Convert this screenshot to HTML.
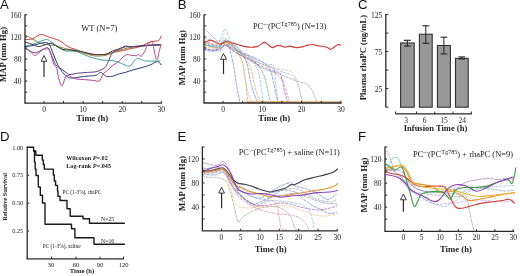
<!DOCTYPE html>
<html><head><meta charset="utf-8"><style>html,body{margin:0;padding:0;background:#fff;}svg{display:block;filter:blur(0.4px)}</style></head><body>
<svg width="520" height="276" viewBox="0 0 520 276">
<rect width="520" height="276" fill="#fff"/>
<path d="M25.0,39.5 C26.3,39.4 30.5,39.5 32.6,38.9 C34.7,38.3 36.2,36.5 37.7,35.7 C39.2,35.0 40.2,34.4 41.5,34.4 C42.8,34.4 43.8,35.2 45.3,35.7 C46.8,36.2 48.5,37.0 50.4,37.6 C52.3,38.2 54.8,38.8 56.7,39.5 C58.6,40.2 60.3,41.0 61.8,42.0 C63.3,43.0 64.1,44.2 65.6,45.2 C67.1,46.2 68.7,46.9 70.7,47.8 C72.7,48.6 75.2,49.5 77.6,50.3 C80.0,51.1 82.3,52.0 85.2,52.8 C88.1,53.5 91.5,54.5 95.0,54.8 C98.5,55.0 102.6,54.8 105.9,54.3 C109.2,53.8 111.7,52.7 114.6,52.1 C117.5,51.5 120.4,51.1 123.3,50.5 C126.2,49.9 129.2,48.9 132.0,48.3 C134.8,47.7 137.6,47.5 140.0,46.7 C142.4,45.9 144.2,44.6 146.2,43.7 C148.2,42.8 150.1,42.0 152.0,41.5 C153.9,41.0 156.5,41.3 157.8,40.8 C159.1,40.3 159.4,39.4 160.0,38.6 C160.6,37.8 161.0,36.4 161.2,36.0" fill="none" stroke="#d23c3c" stroke-width="1.0" stroke-linejoin="round" stroke-linecap="round" opacity="1"/>
<path d="M25.0,35.0 C25.8,35.4 28.3,36.6 30.0,37.5 C31.7,38.4 33.3,39.6 35.0,40.5 C36.7,41.4 38.3,42.3 40.0,43.0 C41.7,43.7 43.3,44.2 45.0,44.5 C46.7,44.8 48.3,44.8 50.0,45.0 C51.7,45.2 53.3,45.2 55.0,45.5 C56.7,45.8 58.3,46.5 60.0,47.0 C61.7,47.5 63.3,48.1 65.0,48.5 C66.7,48.9 68.0,49.1 70.0,49.5 C72.0,49.9 74.5,50.1 77.0,50.8 C79.5,51.5 82.0,52.6 85.0,53.5 C88.0,54.4 91.7,55.7 95.0,56.0 C98.3,56.3 102.2,56.0 105.0,55.5 C107.8,55.0 109.5,53.9 112.0,53.0 C114.5,52.1 117.0,50.9 120.0,50.0 C123.0,49.1 127.1,48.2 130.0,47.5 C132.9,46.8 134.2,46.3 137.5,46.0 C140.8,45.7 146.1,45.7 150.0,45.5 C153.9,45.3 159.2,45.1 161.0,45.0" fill="none" stroke="#8c8a3c" stroke-width="1.0" stroke-linejoin="round" stroke-linecap="round" opacity="1"/>
<path d="M25.0,46.5 C25.8,46.2 28.3,45.5 30.0,45.0 C31.7,44.5 33.3,44.1 35.0,43.5 C36.7,42.9 38.1,42.2 40.0,41.5 C41.9,40.8 44.9,39.6 46.6,39.5 C48.3,39.4 48.7,40.2 50.0,41.0 C51.3,41.8 52.7,42.9 54.2,44.0 C55.8,45.1 57.4,46.6 59.3,47.8 C61.2,49.0 63.5,50.5 65.6,51.0 C67.7,51.5 69.9,50.8 72.0,51.0 C74.1,51.2 75.8,51.3 78.0,52.0 C80.2,52.7 82.5,54.0 85.0,55.0 C87.5,56.0 90.2,57.1 93.0,57.9 C95.8,58.7 99.0,59.6 102.0,60.0 C105.0,60.4 108.3,60.2 111.0,60.5 C113.7,60.8 115.7,61.2 118.0,62.0 C120.3,62.8 123.0,64.3 125.0,65.0 C127.0,65.7 128.4,66.8 130.0,66.0 C131.6,65.2 133.3,61.7 134.6,60.4 C135.8,59.1 136.1,58.2 137.5,58.2 C138.9,58.2 141.4,59.9 143.3,60.4 C145.2,60.9 146.2,61.0 149.0,61.1 C151.8,61.2 158.2,61.1 160.0,61.1" fill="none" stroke="#3aa39a" stroke-width="1.0" stroke-linejoin="round" stroke-linecap="round" opacity="1"/>
<path d="M25.0,42.0 C26.1,42.3 29.2,43.2 31.3,44.0 C33.4,44.8 35.6,46.3 37.7,46.5 C39.8,46.7 42.1,45.7 44.0,45.2 C45.9,44.7 47.6,43.5 49.1,43.3 C50.6,43.1 51.5,43.4 53.0,44.0 C54.5,44.6 56.3,46.1 58.0,47.0 C59.7,47.9 61.0,49.0 63.0,49.5 C65.0,50.0 67.5,49.8 70.0,50.0 C72.5,50.2 75.5,50.6 78.0,51.0 C80.5,51.4 82.2,51.9 85.0,52.5 C87.8,53.1 91.8,54.2 95.0,54.5 C98.2,54.8 101.8,54.7 104.0,54.5 C106.2,54.3 106.6,54.1 108.0,53.5 C109.4,52.9 110.6,51.8 112.4,51.0 C114.2,50.2 116.7,49.7 118.9,48.9 C121.1,48.1 123.4,46.6 125.4,46.2 C127.4,45.8 128.5,46.7 130.9,46.7 C133.3,46.7 137.2,46.5 140.0,46.2 C142.8,45.9 145.4,45.3 147.7,45.1 C149.9,44.9 151.4,45.0 153.5,44.9 C155.6,44.8 158.9,44.5 160.0,44.4" fill="none" stroke="#3a3a44" stroke-width="1.0" stroke-linejoin="round" stroke-linecap="round" opacity="1"/>
<path d="M25.0,48.4 C25.8,48.8 28.3,50.3 30.0,51.0 C31.7,51.7 33.3,52.9 35.2,52.8 C37.1,52.7 39.4,51.1 41.5,50.3 C43.6,49.5 46.1,46.9 47.8,47.8 C49.5,48.6 50.3,52.6 51.6,55.4 C52.9,58.1 54.2,62.2 55.5,64.3 C56.8,66.3 58.0,66.7 59.3,67.7 C60.5,68.7 61.7,69.3 63.0,70.2 C64.3,71.1 65.7,72.3 66.9,73.0 C68.1,73.7 68.0,74.5 70.0,74.5 C72.0,74.5 75.8,73.4 78.7,73.1 C81.6,72.8 84.5,72.6 87.4,72.4 C90.3,72.2 93.7,72.2 96.1,71.7 C98.5,71.2 100.3,70.3 101.9,69.5 C103.5,68.7 104.4,68.2 105.6,66.7 C106.8,65.2 108.1,62.0 108.9,60.2 C109.7,58.4 109.9,57.2 110.5,55.9 C111.1,54.6 111.7,53.5 112.7,52.6 C113.7,51.7 115.3,51.0 116.5,50.4 C117.7,49.8 118.5,49.4 120.0,48.8 C121.5,48.2 123.6,47.1 125.4,46.8 C127.2,46.5 128.6,46.9 131.0,46.8 C133.4,46.7 137.2,46.4 140.0,46.2 C142.8,46.0 145.5,45.7 148.0,45.5 C150.5,45.3 152.9,45.3 155.0,45.2 C157.1,45.1 159.6,45.0 160.5,44.9" fill="none" stroke="#5e3f80" stroke-width="1.0" stroke-linejoin="round" stroke-linecap="round" opacity="1"/>
<path d="M25.0,46.5 C26.1,46.4 29.1,46.3 31.3,45.9 C33.5,45.5 35.9,44.5 38.0,44.0 C40.1,43.5 42.2,42.7 44.0,42.7 C45.8,42.7 47.4,42.0 49.0,44.0 C50.6,46.0 52.1,51.5 53.6,55.0 C55.1,58.5 56.4,62.2 58.0,65.2 C59.6,68.2 61.3,70.8 63.0,72.8 C64.7,74.8 66.4,76.3 68.1,77.2 C69.8,78.1 71.2,78.0 73.2,78.0 C75.2,78.0 77.4,77.3 80.0,77.0 C82.6,76.7 86.1,76.3 88.8,76.0 C91.5,75.7 94.2,75.9 96.1,75.3 C98.0,74.7 99.0,72.4 100.4,72.4 C101.9,72.4 103.6,74.6 104.8,75.3 C106.0,76.0 106.2,76.6 107.7,76.7 C109.2,76.8 111.6,76.5 113.5,76.0 C115.4,75.5 117.4,74.4 119.3,73.8 C121.2,73.2 122.7,73.2 125.0,72.5 C127.3,71.8 130.4,70.6 133.2,69.8 C136.0,69.0 139.0,68.4 141.9,67.6 C144.8,66.8 148.2,65.7 150.6,64.7 C153.0,63.7 154.9,62.2 156.4,61.8 C157.9,61.4 158.5,62.0 159.3,62.5 C160.1,63.0 160.7,64.3 161.0,64.7" fill="none" stroke="#2c3a86" stroke-width="1.0" stroke-linejoin="round" stroke-linecap="round" opacity="1"/>
<path d="M25.0,47.8 C25.6,48.2 27.5,49.2 28.8,50.3 C30.1,51.3 31.5,53.2 32.6,54.1 C33.7,55.0 34.1,55.6 35.2,55.4 C36.3,55.2 37.7,53.8 39.0,52.8 C40.3,51.8 41.3,50.3 42.8,49.7 C44.3,49.1 46.5,48.5 47.8,49.0 C49.1,49.5 49.6,51.1 50.4,52.8 C51.1,54.5 51.7,57.2 52.3,59.2 C52.9,61.2 53.5,63.5 54.2,65.0 C54.9,66.5 56.0,66.1 56.7,68.0 C57.4,69.9 57.5,73.7 58.2,76.6 C59.0,79.5 60.4,84.2 61.2,85.5 C62.0,86.8 62.3,85.7 63.0,84.2 C63.7,82.7 64.8,78.1 65.6,76.6 C66.4,75.1 66.4,74.9 68.1,75.3 C69.8,75.7 73.1,78.2 75.8,78.9 C78.5,79.6 81.6,79.3 84.5,79.6 C87.4,79.8 90.8,80.2 93.2,80.4 C95.6,80.7 97.7,81.5 99.0,81.1 C100.3,80.7 100.5,79.4 101.2,78.2 C101.9,77.0 102.2,75.2 103.3,73.8 C104.4,72.4 106.0,71.5 107.7,70.0 C109.4,68.5 111.6,66.5 113.5,65.0 C115.4,63.5 117.7,62.3 119.3,61.0 C120.9,59.7 121.7,58.1 123.0,57.0 C124.3,55.9 125.8,54.8 127.0,54.5 C128.2,54.2 128.9,54.9 130.4,55.1 C131.9,55.3 134.5,55.8 135.9,55.7 C137.3,55.6 137.7,54.5 138.6,54.6 C139.5,54.7 140.3,56.8 141.3,56.2 C142.3,55.7 143.5,53.2 144.6,51.3 C145.7,49.4 146.7,46.4 147.8,44.8 C148.9,43.2 150.2,41.9 151.0,41.5 C151.8,41.1 152.1,41.0 152.7,42.6 C153.2,44.2 153.8,48.7 154.3,51.3 C154.9,53.9 155.4,57.1 156.0,58.4 C156.6,59.7 157.1,60.1 157.6,58.9 C158.1,57.7 158.6,53.6 159.2,51.3 C159.8,48.9 160.6,45.9 160.9,44.8" fill="none" stroke="#b4468e" stroke-width="1.0" stroke-linejoin="round" stroke-linecap="round" opacity="1"/>
<path d="M204.0,45.0 C205.0,45.2 208.0,45.7 210.0,46.0 C212.0,46.3 214.2,47.0 216.0,47.0 C217.8,47.0 219.5,47.0 221.0,46.0 C222.5,45.0 223.8,41.3 225.0,41.0 C226.2,40.7 227.2,42.5 228.0,44.0 C228.8,45.5 229.3,47.1 230.0,49.7 C230.7,52.3 231.6,56.5 232.3,59.5 C233.0,62.5 233.3,63.4 234.0,67.6 C234.7,71.8 235.5,78.8 236.5,84.5 C237.5,90.2 239.2,99.1 239.8,102.0" fill="none" stroke="#4a6ec8" stroke-width="0.85" stroke-dasharray="2.4,1.6" stroke-linejoin="round" stroke-linecap="round" opacity="0.72"/>
<path d="M204.0,29.0 C204.7,29.5 206.7,30.8 208.0,32.0 C209.3,33.2 210.7,34.7 212.0,36.0 C213.3,37.3 214.8,39.1 216.0,40.0 C217.2,40.9 218.0,40.8 219.5,41.5 C221.0,42.2 222.8,43.2 225.0,44.0 C227.2,44.8 230.6,44.4 233.0,46.4 C235.4,48.4 238.0,53.2 239.7,56.2 C241.4,59.2 242.1,60.4 243.0,64.4 C243.9,68.4 244.7,74.9 245.4,80.0 C246.1,85.1 246.6,91.3 247.0,95.0 C247.4,98.7 247.8,100.8 248.0,102.0" fill="none" stroke="#8a8a8a" stroke-width="0.85" stroke-dasharray="2.4,1.6" stroke-linejoin="round" stroke-linecap="round" opacity="0.72"/>
<path d="M204.0,47.0 C205.0,47.2 208.0,47.7 210.0,48.0 C212.0,48.3 214.2,49.0 216.0,49.0 C217.8,49.0 219.5,48.8 221.0,48.0 C222.5,47.2 223.2,44.5 225.0,44.0 C226.8,43.5 229.3,43.3 231.5,44.8 C233.7,46.3 236.1,49.7 238.0,53.0 C239.9,56.3 241.9,60.6 243.0,64.4 C244.1,68.2 244.0,72.5 244.6,75.8 C245.2,79.1 245.6,81.1 246.3,84.5 C247.0,87.9 248.2,93.2 249.0,96.0 C249.8,98.8 250.8,100.6 251.2,101.5" fill="none" stroke="#f0b870" stroke-width="0.85" stroke-dasharray="2.4,1.6" stroke-linejoin="round" stroke-linecap="round" opacity="0.72"/>
<path d="M204.0,43.0 C205.0,43.2 208.0,43.5 210.0,44.0 C212.0,44.5 214.2,45.8 216.0,46.0 C217.8,46.2 219.5,45.6 221.0,45.0 C222.5,44.4 223.0,42.3 225.0,42.5 C227.0,42.7 230.3,44.0 233.0,46.0 C235.7,48.0 238.8,51.8 241.3,54.6 C243.8,57.4 246.2,60.2 247.8,62.7 C249.5,65.2 250.1,66.2 251.2,69.8 C252.3,73.4 253.4,80.2 254.5,84.5 C255.6,88.8 256.6,93.1 257.7,95.9 C258.8,98.7 258.1,100.5 261.0,101.5 C263.9,102.5 270.2,101.8 275.0,101.8 C279.8,101.8 287.5,101.8 290.0,101.8" fill="none" stroke="#e8922c" stroke-width="0.85" stroke-dasharray="2.4,1.6" stroke-linejoin="round" stroke-linecap="round" opacity="0.72"/>
<path d="M204.0,49.0 C205.0,49.2 208.0,49.8 210.0,50.0 C212.0,50.2 214.2,50.7 216.0,50.0 C217.8,49.3 219.5,47.7 221.0,46.0 C222.5,44.3 223.3,40.5 225.0,40.0 C226.7,39.5 228.8,41.7 231.0,43.0 C233.2,44.3 235.7,45.5 238.0,48.0 C240.3,50.5 242.9,54.5 244.6,57.8 C246.3,61.1 246.9,63.5 248.0,68.0 C249.1,72.5 249.9,79.3 251.2,84.5 C252.5,89.7 254.9,96.1 256.0,99.0 C257.1,101.9 257.7,101.5 258.0,102.0" fill="none" stroke="#4a6ec8" stroke-width="0.85" stroke-dasharray="2.4,1.6" stroke-linejoin="round" stroke-linecap="round" opacity="0.72"/>
<path d="M204.0,42.0 C205.0,42.3 208.0,43.5 210.0,44.0 C212.0,44.5 214.2,46.0 216.0,45.0 C217.8,44.0 219.5,40.7 221.0,38.0 C222.5,35.3 223.8,29.7 225.0,29.0 C226.2,28.3 226.8,31.5 228.0,34.0 C229.2,36.5 230.0,41.0 232.0,44.0 C234.0,47.0 237.0,49.7 240.0,52.0 C243.0,54.3 247.1,55.0 250.0,58.0 C252.9,61.0 256.0,65.9 257.7,69.8 C259.4,73.7 259.4,76.8 260.2,81.2 C261.0,85.6 262.0,92.4 262.6,95.9 C263.2,99.4 263.8,101.0 264.0,102.0" fill="none" stroke="#7ab0d8" stroke-width="0.85" stroke-dasharray="2.4,1.6" stroke-linejoin="round" stroke-linecap="round" opacity="0.72"/>
<path d="M204.0,45.0 C205.0,45.2 208.0,45.5 210.0,46.0 C212.0,46.5 214.2,48.2 216.0,48.0 C217.8,47.8 219.5,46.2 221.0,45.0 C222.5,43.8 222.7,40.5 225.0,41.0 C227.3,41.5 231.7,45.5 235.0,48.0 C238.3,50.5 241.7,53.7 245.0,56.0 C248.3,58.3 252.5,60.0 255.0,62.0 C257.5,64.0 258.4,65.6 260.0,68.0 C261.6,70.4 262.8,71.6 264.3,76.3 C265.8,81.0 268.0,91.6 269.0,95.9 C270.0,100.2 270.2,101.0 270.5,102.0" fill="none" stroke="#3c9a46" stroke-width="0.85" stroke-dasharray="2.4,1.6" stroke-linejoin="round" stroke-linecap="round" opacity="0.72"/>
<path d="M204.0,50.0 C205.0,50.2 208.0,50.8 210.0,51.0 C212.0,51.2 214.2,51.2 216.0,51.0 C217.8,50.8 219.5,51.0 221.0,50.0 C222.5,49.0 222.7,45.0 225.0,45.0 C227.3,45.0 230.8,48.1 235.0,50.0 C239.2,51.9 246.2,54.6 250.0,56.2 C253.8,57.8 255.1,58.2 257.6,59.5 C260.1,60.8 262.8,62.0 265.0,64.0 C267.2,66.0 269.0,66.6 270.8,71.4 C272.6,76.2 274.6,88.0 275.7,92.6 C276.8,97.2 276.9,97.4 277.3,99.0 C277.7,100.6 277.9,101.5 278.0,102.0" fill="none" stroke="#4a6ec8" stroke-width="0.85" stroke-dasharray="2.4,1.6" stroke-linejoin="round" stroke-linecap="round" opacity="0.72"/>
<path d="M204.0,38.0 C205.0,38.3 208.0,39.2 210.0,40.0 C212.0,40.8 214.2,43.0 216.0,43.0 C217.8,43.0 219.5,40.8 221.0,40.0 C222.5,39.2 222.7,37.0 225.0,38.0 C227.3,39.0 231.7,43.5 235.0,46.0 C238.3,48.5 241.2,50.8 245.0,53.0 C248.8,55.2 253.9,57.6 257.6,59.5 C261.3,61.4 264.7,63.3 267.4,64.4 C270.1,65.5 272.3,63.2 273.6,65.9 C274.9,68.6 274.8,75.0 275.4,80.4 C276.0,85.8 276.8,94.9 277.2,98.5 C277.6,102.1 277.7,101.4 277.8,102.0" fill="none" stroke="#7ab0d8" stroke-width="0.85" stroke-dasharray="2.4,1.6" stroke-linejoin="round" stroke-linecap="round" opacity="0.72"/>
<path d="M204.0,41.0 C205.0,41.3 208.2,42.3 210.0,43.0 C211.8,43.7 212.5,44.8 215.0,45.0 C217.5,45.2 220.8,42.8 225.0,44.0 C229.2,45.2 235.0,49.3 240.0,52.0 C245.0,54.7 251.0,57.8 255.0,60.0 C259.0,62.2 261.4,64.0 264.0,65.2 C266.6,66.4 268.5,65.4 270.7,67.0 C272.9,68.6 275.2,72.8 277.2,75.0 C279.2,77.2 281.2,77.7 282.7,80.4 C284.2,83.1 285.2,87.9 286.3,91.2 C287.4,94.5 288.5,98.5 289.0,100.3 C289.5,102.1 289.4,101.7 289.5,102.0" fill="none" stroke="#e07a8a" stroke-width="0.85" stroke-dasharray="2.4,1.6" stroke-linejoin="round" stroke-linecap="round" opacity="0.72"/>
<path d="M204.0,43.0 C205.3,43.5 209.3,45.2 212.0,46.0 C214.7,46.8 217.7,48.2 220.0,48.0 C222.3,47.8 223.5,44.3 226.0,45.0 C228.5,45.7 231.0,49.5 235.0,52.0 C239.0,54.5 245.5,57.3 250.0,60.0 C254.5,62.7 258.7,66.1 262.0,68.0 C265.3,69.9 267.2,70.3 270.0,71.3 C272.8,72.3 276.0,73.0 279.0,74.0 C282.0,75.0 285.1,76.4 288.1,77.6 C291.1,78.8 294.2,80.2 297.2,81.3 C300.2,82.4 303.8,82.7 306.2,84.0 C308.6,85.3 310.2,87.0 311.7,89.4 C313.2,91.8 314.4,96.4 315.3,98.5 C316.2,100.6 316.7,101.4 317.0,102.0" fill="none" stroke="#8a8a8a" stroke-width="0.85" stroke-dasharray="2.4,1.6" stroke-linejoin="round" stroke-linecap="round" opacity="0.72"/>
<path d="M204.0,48.0 C205.3,48.3 209.3,49.8 212.0,50.0 C214.7,50.2 217.7,49.7 220.0,49.0 C222.3,48.3 222.7,45.0 226.0,46.0 C229.3,47.0 235.2,52.2 240.0,55.0 C244.8,57.8 250.0,60.5 255.0,63.0 C260.0,65.5 266.0,68.4 270.0,70.0 C274.0,71.6 277.0,71.7 278.8,72.5 C280.6,73.3 279.9,71.9 280.9,75.0 C281.8,78.1 283.4,87.0 284.5,91.2 C285.6,95.4 286.7,98.5 287.2,100.3 C287.7,102.1 287.5,101.7 287.6,102.0" fill="none" stroke="#8a44b4" stroke-width="0.85" stroke-dasharray="2.4,1.6" stroke-linejoin="round" stroke-linecap="round" opacity="0.72"/>
<path d="M204.0,46.0 C205.0,46.2 208.0,46.7 210.0,47.0 C212.0,47.3 214.2,48.5 216.0,48.0 C217.8,47.5 219.5,45.2 221.0,44.0 C222.5,42.8 222.7,40.0 225.0,41.0 C227.3,42.0 231.2,47.2 235.0,50.0 C238.8,52.8 243.5,55.7 248.0,58.0 C252.5,60.3 257.5,62.3 262.0,64.0 C266.5,65.7 271.2,67.0 275.0,68.0 C278.8,69.0 282.2,69.3 285.0,70.0 C287.8,70.7 290.0,70.3 292.0,72.0 C294.0,73.7 295.7,76.7 297.0,80.0 C298.3,83.3 299.2,88.3 300.0,92.0 C300.8,95.7 301.7,100.3 302.0,102.0" fill="none" stroke="#f0b870" stroke-width="0.85" stroke-dasharray="2.4,1.6" stroke-linejoin="round" stroke-linecap="round" opacity="0.72"/>
<path d="M204.0,44.0 C205.3,44.3 209.3,45.8 212.0,46.0 C214.7,46.2 217.7,46.0 220.0,45.0 C222.3,44.0 223.0,38.8 226.0,40.0 C229.0,41.2 233.7,48.7 238.0,52.0 C242.3,55.3 247.0,57.7 252.0,60.0 C257.0,62.3 262.8,64.0 268.0,66.0 C273.2,68.0 278.8,70.3 283.0,72.0 C287.2,73.7 290.5,73.8 293.0,76.0 C295.5,78.2 296.7,81.7 298.0,85.0 C299.3,88.3 300.2,93.2 301.0,96.0 C301.8,98.8 302.2,101.0 302.5,102.0" fill="none" stroke="#7ab0d8" stroke-width="0.85" stroke-dasharray="2.4,1.6" stroke-linejoin="round" stroke-linecap="round" opacity="0.72"/>
<line x1="246" y1="102.0" x2="341" y2="102.0" stroke="#e8a868" stroke-width="1.6"/>
<path d="M203.8,42.5 C204.3,42.3 205.7,41.9 206.8,41.5 C207.9,41.1 209.3,40.2 210.6,40.2 C211.9,40.2 212.9,40.9 214.4,41.5 C215.9,42.1 218.0,43.8 219.5,44.0 C221.0,44.2 222.0,43.2 223.3,42.8 C224.6,42.4 225.4,41.4 227.1,41.5 C228.8,41.6 230.8,42.5 233.2,43.2 C235.6,43.9 238.6,44.9 241.3,45.6 C244.0,46.3 246.8,47.1 249.5,47.2 C252.2,47.3 255.2,47.2 257.6,46.4 C260.1,45.6 262.4,42.6 264.2,42.3 C266.0,42.0 266.8,43.9 268.2,44.8 C269.6,45.7 270.8,47.6 272.3,47.7 C273.8,47.8 275.8,45.9 277.2,45.6 C278.6,45.3 279.7,45.5 281.0,45.8 C282.3,46.1 283.5,47.1 285.0,47.2 C286.5,47.3 288.1,46.1 290.0,46.2 C291.9,46.3 294.1,47.6 296.2,47.7 C298.3,47.8 300.6,47.3 302.5,46.9 C304.4,46.5 305.8,45.6 307.5,45.2 C309.2,44.8 310.8,44.4 312.5,44.5 C314.2,44.6 315.6,45.3 317.5,45.6 C319.4,45.9 322.0,46.2 323.7,46.5 C325.4,46.8 326.4,47.0 327.5,47.5 C328.6,48.0 329.6,49.4 330.6,49.4 C331.6,49.4 332.6,48.3 333.7,47.5 C334.8,46.7 336.4,45.1 337.5,44.7 C338.6,44.3 340.1,45.0 340.6,45.0" fill="none" stroke="#d23c3c" stroke-width="1.2" stroke-linejoin="round" stroke-linecap="round" opacity="1"/>
<path d="M203.0,163.0 C203.4,163.0 203.8,162.9 205.3,163.2 C206.8,163.5 209.8,164.7 212.0,165.0 C214.2,165.3 216.4,165.4 218.3,164.8 C220.2,164.2 221.6,161.0 223.2,161.5 C224.8,162.0 226.2,164.5 228.1,168.0 C230.0,171.5 232.7,178.3 234.6,182.7 C236.5,187.1 237.8,191.5 239.5,194.2 C241.2,196.9 242.8,197.4 245.0,199.0 C247.2,200.6 250.2,202.3 252.7,203.5 C255.2,204.7 257.1,205.8 260.0,206.0 C262.9,206.2 266.7,205.5 270.0,205.0 C273.3,204.5 276.7,203.2 280.0,203.0 C283.3,202.8 286.7,203.3 290.0,204.0 C293.3,204.7 296.7,206.2 300.0,207.0 C303.3,207.8 306.7,208.5 310.0,209.0 C313.3,209.5 316.7,210.2 320.0,210.0 C323.3,209.8 327.2,208.7 330.0,208.0 C332.8,207.3 335.8,206.3 337.0,206.0" fill="none" stroke="#8a44b4" stroke-width="0.85" stroke-dasharray="2.4,1.6" stroke-linejoin="round" stroke-linecap="round" opacity="0.72"/>
<path d="M203.0,175.0 C203.4,175.3 202.8,176.5 205.3,177.0 C207.9,177.5 214.8,177.0 218.3,177.8 C221.8,178.6 224.3,179.0 226.5,181.9 C228.7,184.8 229.8,190.3 231.2,195.0 C232.6,199.7 233.8,205.5 235.0,210.0 C236.2,214.5 236.7,220.8 238.1,221.9 C239.5,223.0 240.6,218.6 243.5,216.5 C246.4,214.4 252.2,211.1 255.8,209.6 C259.4,208.1 262.2,207.8 265.0,207.3 C267.8,206.8 270.1,206.4 272.7,206.5 C275.3,206.6 278.1,207.1 280.4,208.0 C282.7,208.9 284.7,210.2 286.5,211.9 C288.3,213.6 289.9,215.7 291.2,218.0 C292.5,220.3 293.4,223.9 294.2,225.8 C295.0,227.7 294.8,228.8 295.8,229.5 C296.8,230.2 299.3,229.9 300.0,230.0" fill="none" stroke="#8a8a8a" stroke-width="0.85" stroke-dasharray="2.4,1.6" stroke-linejoin="round" stroke-linecap="round" opacity="0.72"/>
<path d="M203.0,168.0 C204.5,168.2 209.2,169.0 212.0,169.0 C214.8,169.0 217.7,167.5 220.0,168.0 C222.3,168.5 224.0,169.2 226.0,172.0 C228.0,174.8 229.6,181.2 232.0,185.0 C234.4,188.8 237.7,192.1 240.4,195.0 C243.1,197.9 245.4,200.8 248.0,202.7 C250.6,204.6 253.2,206.2 255.8,206.5 C258.4,206.8 260.9,205.2 263.5,204.2 C266.1,203.2 269.1,200.7 271.2,200.4 C273.2,200.2 274.6,201.0 275.8,202.7 C277.0,204.4 277.5,207.6 278.1,210.4 C278.7,213.2 279.1,216.7 279.6,219.6 C280.1,222.5 280.1,226.3 281.2,228.0 C282.3,229.7 285.6,229.5 286.5,229.8" fill="none" stroke="#e07a8a" stroke-width="0.85" stroke-dasharray="2.4,1.6" stroke-linejoin="round" stroke-linecap="round" opacity="0.72"/>
<path d="M203.0,172.0 C205.0,172.0 211.3,172.3 215.0,172.0 C218.7,171.7 222.2,168.7 225.0,170.0 C227.8,171.3 229.5,176.7 232.0,180.0 C234.5,183.3 237.0,187.3 240.0,190.0 C243.0,192.7 246.7,194.7 250.0,196.0 C253.3,197.3 256.7,198.7 260.0,198.0 C263.3,197.3 267.3,193.6 270.0,192.0 C272.7,190.4 274.5,189.7 276.3,188.6 C278.1,187.5 278.3,186.7 280.8,185.7 C283.3,184.7 288.8,182.6 291.2,182.7 C293.6,182.8 292.6,185.0 295.0,186.0 C297.4,187.0 301.9,187.6 305.4,188.7 C308.9,189.8 312.4,190.8 315.9,192.6 C319.4,194.3 323.7,198.3 326.3,199.2 C328.9,200.1 329.8,198.8 331.5,197.9 C333.2,197.0 335.9,194.7 336.8,194.0" fill="none" stroke="#4a6ec8" stroke-width="0.85" stroke-dasharray="2.4,1.6" stroke-linejoin="round" stroke-linecap="round" opacity="0.72"/>
<path d="M203.0,170.0 C205.0,170.0 211.5,170.2 215.0,170.0 C218.5,169.8 221.2,167.3 224.0,169.0 C226.8,170.7 228.5,176.5 232.0,180.0 C235.5,183.5 240.3,187.7 245.0,190.0 C249.7,192.3 255.0,193.7 260.0,194.0 C265.0,194.3 269.9,192.9 275.0,192.0 C280.1,191.1 286.7,189.0 290.9,188.7 C295.1,188.4 296.9,188.7 300.2,190.0 C303.5,191.3 307.2,194.8 310.7,196.6 C314.2,198.3 317.6,199.6 321.1,200.5 C324.6,201.4 328.9,202.0 331.5,201.8 C334.1,201.6 335.9,199.6 336.8,199.2" fill="none" stroke="#8a8a8a" stroke-width="0.85" stroke-dasharray="2.4,1.6" stroke-linejoin="round" stroke-linecap="round" opacity="0.72"/>
<path d="M203.0,174.0 C205.0,174.2 211.5,175.2 215.0,175.0 C218.5,174.8 221.2,171.2 224.0,173.0 C226.8,174.8 228.7,181.8 232.0,186.0 C235.3,190.2 240.6,195.0 244.0,198.0 C247.4,201.0 250.0,203.3 252.7,204.0 C255.4,204.7 257.4,203.0 260.0,202.0 C262.6,201.0 265.5,199.0 268.0,198.0 C270.5,197.0 272.2,196.5 275.0,196.0 C277.8,195.5 281.5,195.5 285.0,195.0 C288.5,194.5 293.5,192.7 296.0,193.0 C298.5,193.3 297.8,194.7 300.2,196.6 C302.6,198.5 307.2,202.2 310.7,204.4 C314.2,206.6 318.1,208.1 321.1,209.6 C324.2,211.1 326.4,213.1 329.0,213.5 C331.6,213.9 335.5,212.4 336.8,212.2" fill="none" stroke="#4a6ec8" stroke-width="0.85" stroke-dasharray="2.4,1.6" stroke-linejoin="round" stroke-linecap="round" opacity="0.72"/>
<path d="M203.0,172.0 C205.0,172.0 211.5,172.2 215.0,172.0 C218.5,171.8 221.5,168.8 224.0,171.0 C226.5,173.2 228.1,179.5 230.0,185.0 C231.9,190.5 232.9,200.2 235.7,204.0 C238.5,207.8 243.2,207.5 247.0,208.0 C250.8,208.5 254.2,207.3 258.3,207.0 C262.4,206.7 266.9,206.6 271.5,206.4 C276.1,206.2 281.6,205.4 285.7,205.7 C289.8,206.0 292.5,207.2 296.0,208.3 C299.5,209.4 303.4,211.1 306.6,212.2 C309.8,213.3 311.9,214.4 315.0,215.0 C318.1,215.6 321.3,216.2 325.0,216.0 C328.7,215.8 335.0,214.3 337.0,214.0" fill="none" stroke="#f0b870" stroke-width="0.85" stroke-dasharray="2.4,1.6" stroke-linejoin="round" stroke-linecap="round" opacity="0.72"/>
<path d="M203.0,169.0 C205.8,168.8 215.2,165.8 220.0,168.0 C224.8,170.2 227.0,177.5 232.0,182.0 C237.0,186.5 244.5,192.0 250.0,195.0 C255.5,198.0 260.0,199.0 265.0,200.0 C270.0,201.0 275.0,200.5 280.0,201.0 C285.0,201.5 290.8,202.2 295.0,203.0 C299.2,203.8 302.5,204.5 305.0,206.0 C307.5,207.5 308.7,209.3 310.0,212.0 C311.3,214.7 312.2,219.0 313.0,222.0 C313.8,225.0 313.4,228.5 314.6,229.8 C315.8,231.1 319.1,230.0 320.0,230.0" fill="none" stroke="#7ab0d8" stroke-width="0.85" stroke-dasharray="2.4,1.6" stroke-linejoin="round" stroke-linecap="round" opacity="0.72"/>
<path d="M203.0,171.0 C205.0,171.0 211.5,171.2 215.0,171.0 C218.5,170.8 221.5,168.5 224.0,170.0 C226.5,171.5 228.0,176.3 230.0,180.0 C232.0,183.7 233.5,188.7 236.0,192.0 C238.5,195.3 241.8,197.8 245.0,200.0 C248.2,202.2 252.2,204.5 255.0,205.0 C257.8,205.5 259.5,204.2 262.0,203.0 C264.5,201.8 267.3,199.8 270.0,198.0 C272.7,196.2 275.5,193.3 278.0,192.0 C280.5,190.7 282.2,190.0 285.0,190.0 C287.8,190.0 291.7,191.0 295.0,192.0 C298.3,193.0 301.7,194.7 305.0,196.0 C308.3,197.3 311.7,198.8 315.0,200.0 C318.3,201.2 321.3,202.3 325.0,203.0 C328.7,203.7 335.0,203.8 337.0,204.0" fill="none" stroke="#7080b8" stroke-width="0.85" stroke-dasharray="2.4,1.6" stroke-linejoin="round" stroke-linecap="round" opacity="0.72"/>
<path d="M203.0,173.0 C205.0,173.0 211.5,173.2 215.0,173.0 C218.5,172.8 221.5,170.5 224.0,172.0 C226.5,173.5 227.7,178.0 230.0,182.0 C232.3,186.0 235.0,192.3 238.0,196.0 C241.0,199.7 244.7,201.8 248.0,204.0 C251.3,206.2 254.7,207.7 258.0,209.0 C261.3,210.3 264.7,211.2 268.0,212.0 C271.3,212.8 274.3,213.5 278.0,214.0 C281.7,214.5 286.3,214.3 290.0,215.0 C293.7,215.7 297.3,216.5 300.0,218.0 C302.7,219.5 304.5,221.9 306.0,224.0 C307.5,226.1 308.5,229.2 309.0,230.3" fill="none" stroke="#c08898" stroke-width="0.85" stroke-dasharray="2.4,1.6" stroke-linejoin="round" stroke-linecap="round" opacity="0.72"/>
<path d="M202.8,170.8 C203.2,170.9 203.8,171.4 205.3,171.3 C206.8,171.2 209.6,170.9 211.8,170.5 C214.0,170.1 216.4,169.3 218.3,168.9 C220.2,168.5 221.6,167.3 223.2,168.0 C224.8,168.7 226.5,171.0 228.1,172.9 C229.7,174.8 231.4,177.8 233.0,179.5 C234.6,181.2 236.0,182.4 237.9,183.2 C239.8,184.0 242.2,183.7 244.4,184.2 C246.6,184.7 248.8,185.3 251.0,186.0 C253.2,186.7 255.7,187.7 257.5,188.4 C259.3,189.1 259.9,189.4 262.0,190.0 C264.1,190.6 267.5,191.9 270.0,192.0 C272.5,192.1 274.6,191.0 277.1,190.4 C279.6,189.8 282.7,189.2 285.0,188.3 C287.3,187.4 289.2,185.4 290.9,184.8 C292.6,184.2 292.6,185.5 295.0,184.6 C297.4,183.7 301.9,180.9 305.4,179.6 C308.9,178.3 312.4,177.9 315.9,177.0 C319.4,176.1 323.2,175.3 326.3,174.4 C329.4,173.5 332.3,172.6 334.2,171.7 C336.1,170.8 336.9,169.3 337.5,168.8" fill="none" stroke="#3a3a44" stroke-width="1.1" stroke-linejoin="round" stroke-linecap="round" opacity="1"/>
<path d="M202.8,172.0 C203.2,172.0 203.8,172.3 205.3,172.1 C206.8,171.9 209.8,171.4 212.0,171.0 C214.2,170.6 216.4,170.0 218.3,169.7 C220.2,169.3 221.3,167.8 223.2,168.9 C225.1,170.0 227.8,173.5 229.7,176.2 C231.6,178.9 232.7,183.3 234.6,185.2 C236.5,187.1 238.5,186.5 241.2,187.6 C243.9,188.7 247.5,190.5 251.0,191.7 C254.5,192.8 258.8,193.7 262.0,194.5 C265.2,195.3 266.1,196.4 270.0,196.6 C273.9,196.8 281.5,195.9 285.7,195.5 C289.9,195.1 290.8,194.7 295.0,194.0 C299.2,193.3 305.5,192.2 310.7,191.3 C315.9,190.4 322.4,189.6 326.3,188.7 C330.2,187.8 332.3,187.0 334.2,186.1 C336.1,185.2 336.9,183.9 337.5,183.5" fill="none" stroke="#e8922c" stroke-width="1.1" stroke-linejoin="round" stroke-linecap="round" opacity="1"/>
<path d="M202.8,170.5 C203.2,170.5 203.8,170.9 205.3,170.5 C206.8,170.1 209.6,168.7 211.8,168.0 C214.0,167.3 216.5,166.9 218.3,166.4 C220.1,165.9 221.0,164.7 222.4,164.8 C223.8,164.9 225.0,165.6 226.5,167.2 C228.0,168.8 230.1,172.0 231.4,174.6 C232.8,177.2 233.5,180.2 234.6,182.7 C235.7,185.1 236.3,187.7 237.9,189.3 C239.5,190.9 242.2,191.7 244.4,192.5 C246.6,193.3 248.1,193.8 251.0,194.0 C253.9,194.2 258.6,193.3 262.0,193.5 C265.4,193.7 268.4,194.4 271.5,195.0 C274.6,195.6 277.6,197.0 280.9,197.2 C284.1,197.4 287.6,196.3 291.0,196.0 C294.4,195.7 297.0,195.8 301.3,195.2 C305.6,194.6 312.2,193.1 317.0,192.6 C321.8,192.1 326.6,192.3 330.0,192.0 C333.4,191.7 336.2,190.8 337.5,190.5" fill="none" stroke="#8a44b4" stroke-width="1.1" stroke-linejoin="round" stroke-linecap="round" opacity="1"/>
<path d="M386.0,151.0 C386.2,151.1 386.8,150.5 387.4,151.6 C388.0,152.7 389.1,155.5 389.9,157.7 C390.7,159.9 391.5,162.6 392.3,165.0 C393.1,167.4 393.5,170.3 394.7,172.3 C395.9,174.3 398.0,175.1 399.6,177.1 C401.2,179.1 402.7,182.2 404.4,184.4 C406.1,186.6 407.4,188.6 410.0,190.0 C412.6,191.4 415.8,192.2 420.0,193.0 C424.2,193.8 430.0,194.5 435.0,195.0 C440.0,195.5 445.8,195.7 450.0,196.0 C454.2,196.3 457.3,196.5 460.0,196.6 C462.7,196.7 464.2,192.7 466.1,196.6 C468.0,200.5 470.0,214.3 471.3,220.0 C472.6,225.7 473.6,229.2 474.0,231.0" fill="none" stroke="#8a8a8a" stroke-width="0.85" stroke-dasharray="2.4,1.6" stroke-linejoin="round" stroke-linecap="round" opacity="0.72"/>
<path d="M386.0,170.0 C387.1,168.2 390.4,161.0 392.3,158.9 C394.2,156.8 395.9,157.3 397.1,157.7 C398.3,158.1 398.6,159.1 399.6,161.3 C400.6,163.5 402.0,168.1 403.2,171.1 C404.4,174.1 405.3,177.1 406.8,179.6 C408.3,182.1 409.8,184.3 412.0,186.0 C414.2,187.7 417.0,189.0 420.0,190.0 C423.0,191.0 425.8,191.5 430.0,192.0 C434.2,192.5 440.7,192.7 445.0,193.0 C449.3,193.3 452.4,194.3 455.7,194.0 C459.0,193.7 461.8,192.0 465.0,191.0 C468.2,190.0 470.8,188.3 475.0,188.0 C479.2,187.7 485.0,188.5 490.0,189.0 C495.0,189.5 501.0,190.8 505.0,191.0 C509.0,191.2 512.5,190.2 514.0,190.0" fill="none" stroke="#3aa39a" stroke-width="0.85" stroke-dasharray="2.4,1.6" stroke-linejoin="round" stroke-linecap="round" opacity="0.72"/>
<path d="M386.0,168.0 C387.5,168.7 392.3,170.3 395.0,172.0 C397.7,173.7 399.6,175.1 402.0,178.0 C404.4,180.9 406.5,186.2 409.3,189.3 C412.1,192.4 415.0,194.1 419.0,196.5 C423.0,198.9 430.0,202.5 433.5,203.8 C437.0,205.1 437.2,204.5 440.0,204.4 C442.8,204.3 447.1,203.5 450.4,203.1 C453.7,202.7 455.9,202.5 460.0,202.0 C464.1,201.5 470.0,200.2 475.0,200.0 C480.0,199.8 485.0,200.7 490.0,201.0 C495.0,201.3 501.0,202.2 505.0,202.0 C509.0,201.8 512.5,200.3 514.0,200.0" fill="none" stroke="#b58fd8" stroke-width="0.85" stroke-dasharray="2.4,1.6" stroke-linejoin="round" stroke-linecap="round" opacity="0.72"/>
<path d="M386.0,168.0 C387.5,168.7 392.0,170.0 395.0,172.0 C398.0,174.0 401.2,177.0 404.0,180.0 C406.8,183.0 409.3,187.3 412.0,190.0 C414.7,192.7 417.0,194.0 420.0,196.0 C423.0,198.0 427.0,200.5 430.0,202.0 C433.0,203.5 435.5,204.2 438.0,205.0 C440.5,205.8 443.0,206.9 445.0,206.7 C447.0,206.5 448.1,205.1 450.0,204.0 C451.9,202.9 454.2,201.8 456.7,200.0 C459.2,198.2 461.1,195.2 465.0,193.3 C468.9,191.4 475.0,189.6 480.0,188.5 C485.0,187.4 489.3,187.0 495.0,186.5 C500.7,186.0 510.8,185.7 514.0,185.5" fill="none" stroke="#7ab0d8" stroke-width="0.85" stroke-dasharray="2.4,1.6" stroke-linejoin="round" stroke-linecap="round" opacity="0.72"/>
<path d="M386.0,170.0 C387.5,170.0 392.3,169.7 395.0,170.0 C397.7,170.3 399.5,169.8 402.0,172.0 C404.5,174.2 407.0,180.0 410.0,183.0 C413.0,186.0 415.8,188.5 420.0,190.0 C424.2,191.5 430.0,192.0 435.0,192.0 C440.0,192.0 446.6,190.6 450.0,190.0 C453.4,189.4 453.0,190.0 455.7,188.7 C458.4,187.4 462.2,183.7 466.1,182.2 C470.0,180.7 475.3,180.2 479.2,179.6 C483.1,178.9 486.6,178.3 489.6,178.3 C492.6,178.3 494.3,179.6 497.4,179.6 C500.4,179.6 505.1,178.3 507.9,178.3 C510.7,178.3 513.3,179.4 514.4,179.6" fill="none" stroke="#8a44b4" stroke-width="0.85" stroke-dasharray="2.4,1.6" stroke-linejoin="round" stroke-linecap="round" opacity="0.72"/>
<path d="M385.5,172.3 C385.8,172.3 386.0,172.0 387.4,172.3 C388.8,172.6 391.9,173.6 393.9,174.0 C395.9,174.4 397.5,174.0 399.6,174.7 C401.8,175.4 404.4,176.7 406.8,178.3 C409.2,179.9 411.3,183.0 414.1,184.4 C416.9,185.8 420.6,186.5 423.8,186.8 C427.0,187.1 430.8,186.1 433.5,186.0 C436.2,185.9 438.1,185.9 440.0,186.1 C441.9,186.3 443.5,185.4 445.2,187.4 C446.9,189.4 448.6,194.6 450.4,197.9 C452.1,201.2 453.9,205.3 455.7,207.0 C457.4,208.7 458.3,208.5 460.9,208.3 C463.5,208.1 467.8,206.6 471.3,205.7 C474.8,204.8 478.3,203.8 481.8,203.1 C485.3,202.4 488.7,202.2 492.2,201.8 C495.7,201.4 499.9,200.9 502.7,200.5 C505.5,200.1 507.2,198.8 509.2,199.2 C511.1,199.6 513.5,202.4 514.4,203.1" fill="none" stroke="#d23c3c" stroke-width="1.1" stroke-linejoin="round" stroke-linecap="round" opacity="1"/>
<path d="M385.5,170.0 C385.8,170.2 385.9,171.6 387.4,171.0 C388.9,170.4 392.3,167.0 394.7,166.2 C397.1,165.4 400.0,165.2 402.0,166.2 C404.0,167.2 405.2,169.7 406.8,172.3 C408.4,174.9 409.3,180.0 411.7,182.0 C414.1,184.0 417.8,183.6 421.4,184.4 C425.0,185.2 430.4,185.4 433.5,186.8 C436.6,188.2 437.2,191.8 440.0,192.6 C442.8,193.3 446.9,190.9 450.4,191.3 C453.9,191.7 457.8,193.7 460.9,195.2 C463.9,196.7 465.6,199.8 468.7,200.5 C471.8,201.2 475.3,199.8 479.2,199.2 C483.1,198.5 487.8,197.5 492.2,196.6 C496.6,195.7 501.6,194.7 505.3,194.0 C509.0,193.3 513.0,192.8 514.5,192.6" fill="none" stroke="#e8922c" stroke-width="1.1" stroke-linejoin="round" stroke-linecap="round" opacity="1"/>
<path d="M385.5,168.0 C386.9,167.8 391.1,166.9 394.0,166.5 C396.9,166.1 400.7,164.6 403.0,165.5 C405.3,166.4 406.3,169.1 408.0,172.0 C409.7,174.9 411.0,180.7 413.0,183.0 C415.0,185.3 417.2,185.2 420.0,186.0 C422.8,186.8 426.7,187.5 430.0,188.0 C433.3,188.5 436.7,188.8 440.0,189.0 C443.3,189.2 446.7,189.0 450.0,189.5 C453.3,190.0 456.7,191.1 460.0,192.0 C463.3,192.9 466.7,194.2 470.0,195.0 C473.3,195.8 475.8,196.5 480.0,196.5 C484.2,196.5 489.2,195.6 495.0,195.0 C500.8,194.4 511.2,193.3 514.5,193.0" fill="none" stroke="#e6b43c" stroke-width="1.1" stroke-linejoin="round" stroke-linecap="round" opacity="1"/>
<path d="M385.5,165.0 C385.8,165.0 385.9,164.2 387.4,165.0 C388.9,165.8 392.3,169.4 394.7,169.8 C397.1,170.2 400.0,165.4 402.0,167.4 C404.0,169.4 405.4,177.6 406.8,182.0 C408.2,186.4 409.3,190.0 410.5,194.1 C411.7,198.2 412.9,205.1 414.1,206.3 C415.3,207.5 416.6,203.4 417.8,201.4 C419.0,199.4 419.2,195.7 421.4,194.1 C423.6,192.5 428.0,192.2 431.1,191.7 C434.2,191.2 437.6,190.9 440.0,191.3 C442.4,191.7 443.5,192.7 445.2,194.0 C446.9,195.3 448.6,199.9 450.4,199.2 C452.1,198.5 453.1,192.0 455.7,190.0 C458.3,188.0 462.6,187.8 466.1,187.4 C469.6,187.0 473.1,187.6 476.6,187.4 C480.1,187.2 483.5,187.0 487.0,186.1 C490.5,185.2 493.9,183.3 497.4,182.2 C500.9,181.1 505.5,179.4 507.9,179.6 C510.3,179.8 510.7,184.2 511.8,183.5 C512.9,182.8 513.8,178.3 514.4,175.7 C515.0,173.1 515.5,169.1 515.7,167.8" fill="none" stroke="#3c9a46" stroke-width="1.1" stroke-linejoin="round" stroke-linecap="round" opacity="1"/>
<path d="M385.5,174.7 C385.8,174.7 385.5,174.3 387.4,174.7 C389.3,175.1 394.3,175.9 397.1,177.1 C399.9,178.3 402.0,179.8 404.4,182.0 C406.8,184.2 408.9,188.3 411.7,190.5 C414.5,192.7 417.8,193.5 421.4,195.3 C425.0,197.1 430.4,200.8 433.5,201.4 C436.6,202.0 437.6,201.1 440.0,199.0 C442.4,196.9 445.2,191.1 447.8,188.7 C450.4,186.3 452.6,185.2 455.7,184.8 C458.8,184.4 462.6,185.0 466.1,186.1 C469.6,187.2 473.1,191.1 476.6,191.3 C480.1,191.5 483.5,188.9 487.0,187.4 C490.5,185.9 494.3,183.5 497.4,182.2 C500.4,180.9 502.7,180.5 505.3,179.6 C507.9,178.7 511.8,177.4 513.1,177.0" fill="none" stroke="#8a44b4" stroke-width="1.1" stroke-linejoin="round" stroke-linecap="round" opacity="1"/>
<polyline points="27.2,147.2 33.6,147.2 33.6,151.0 35.8,151.0 35.8,155.3 42.3,155.3 42.3,160.0 43.3,160.0 43.3,164.5 44.3,164.5 44.3,169.1 53.3,169.1 53.3,175.0 54.3,175.0 54.3,181.0 55.6,181.0 55.6,185.4 57.5,185.4 57.5,191.0 58.0,191.0 58.0,196.3 60.0,196.3 60.0,200.5 67.0,200.5 67.0,208.7 70.2,208.7 70.2,216.3 83.0,216.3 83.0,218.7 89.5,218.7 89.5,223.3 124.5,223.3" fill="none" stroke="#1a1a1a" stroke-width="1.4" stroke-linejoin="round" stroke-linecap="round" opacity="1"/>
<polyline points="33.6,151.0 34.5,151.0 34.5,162.0 35.2,162.0 35.2,169.0 36.0,169.0 36.0,175.5 38.3,175.5 38.3,187.0 40.3,187.0 40.3,195.3 42.5,195.3 42.5,203.0 45.0,203.0 45.0,224.2 71.5,224.2 71.5,228.8 74.9,228.8 74.9,237.8 94.0,237.8 94.0,244.3 124.5,244.3" fill="none" stroke="#1a1a1a" stroke-width="1.4" stroke-linejoin="round" stroke-linecap="round" opacity="1"/>
<text x="-0.1" y="9.2" font-size="13.2" font-family="'Liberation Sans', sans-serif" text-anchor="start" fill="#111">A</text>
<text x="177.7" y="9.2" font-size="13.2" font-family="'Liberation Sans', sans-serif" text-anchor="start" fill="#111">B</text>
<text x="358.1" y="9.3" font-size="13.2" font-family="'Liberation Sans', sans-serif" text-anchor="start" fill="#111">C</text>
<text x="-0.1" y="141.0" font-size="13.2" font-family="'Liberation Sans', sans-serif" text-anchor="start" fill="#111">D</text>
<text x="177.6" y="141.1" font-size="13.2" font-family="'Liberation Sans', sans-serif" text-anchor="start" fill="#111">E</text>
<text x="357.9" y="141.2" font-size="13.2" font-family="'Liberation Sans', sans-serif" text-anchor="start" fill="#111">F</text>
<line x1="25" y1="14.3" x2="25" y2="103.2" stroke="#2a2a2a" stroke-width="1.3"/>
<line x1="25" y1="14.8" x2="27.2" y2="14.8" stroke="#2a2a2a" stroke-width="1.0"/>
<line x1="25" y1="25.85" x2="27.2" y2="25.85" stroke="#2a2a2a" stroke-width="1.0"/>
<line x1="25" y1="36.900000000000006" x2="27.2" y2="36.900000000000006" stroke="#2a2a2a" stroke-width="1.0"/>
<line x1="25" y1="47.95" x2="27.2" y2="47.95" stroke="#2a2a2a" stroke-width="1.0"/>
<line x1="25" y1="59.0" x2="27.2" y2="59.0" stroke="#2a2a2a" stroke-width="1.0"/>
<line x1="25" y1="70.05" x2="27.2" y2="70.05" stroke="#2a2a2a" stroke-width="1.0"/>
<line x1="25" y1="81.10000000000001" x2="27.2" y2="81.10000000000001" stroke="#2a2a2a" stroke-width="1.0"/>
<line x1="25" y1="92.15" x2="27.2" y2="92.15" stroke="#2a2a2a" stroke-width="1.0"/>
<text x="21.5" y="17.7" font-size="7.5" font-family="'Liberation Serif', serif" text-anchor="end" fill="#222">160</text>
<text x="21.5" y="39.800000000000004" font-size="7.5" font-family="'Liberation Serif', serif" text-anchor="end" fill="#222">120</text>
<text x="21.5" y="61.9" font-size="7.5" font-family="'Liberation Serif', serif" text-anchor="end" fill="#222">80</text>
<text x="21.5" y="84.00000000000001" font-size="7.5" font-family="'Liberation Serif', serif" text-anchor="end" fill="#222">40</text>
<line x1="24.4" y1="103.2" x2="161.8" y2="103.2" stroke="#2a2a2a" stroke-width="1.3"/>
<line x1="44.0" y1="103.2" x2="44.0" y2="101.0" stroke="#2a2a2a" stroke-width="1.0"/>
<line x1="63.55" y1="103.2" x2="63.55" y2="101.0" stroke="#2a2a2a" stroke-width="1.0"/>
<line x1="83.1" y1="103.2" x2="83.1" y2="101.0" stroke="#2a2a2a" stroke-width="1.0"/>
<line x1="102.65" y1="103.2" x2="102.65" y2="101.0" stroke="#2a2a2a" stroke-width="1.0"/>
<line x1="122.2" y1="103.2" x2="122.2" y2="101.0" stroke="#2a2a2a" stroke-width="1.0"/>
<line x1="141.75" y1="103.2" x2="141.75" y2="101.0" stroke="#2a2a2a" stroke-width="1.0"/>
<line x1="161.3" y1="103.2" x2="161.3" y2="101.0" stroke="#2a2a2a" stroke-width="1.0"/>
<text x="44.0" y="112.2" font-size="7.5" font-family="'Liberation Serif', serif" text-anchor="middle" fill="#222">0</text>
<text x="83.1" y="112.2" font-size="7.5" font-family="'Liberation Serif', serif" text-anchor="middle" fill="#222">10</text>
<text x="122.2" y="112.2" font-size="7.5" font-family="'Liberation Serif', serif" text-anchor="middle" fill="#222">20</text>
<text x="161.3" y="112.2" font-size="7.5" font-family="'Liberation Serif', serif" text-anchor="middle" fill="#222">30</text>
<text x="92.3" y="121.1" font-size="8.7" font-family="'Liberation Serif', serif" text-anchor="middle" font-weight="bold" fill="#222">Time (h)</text>
<text x="5.7" y="54.4" font-size="8.7" font-family="'Liberation Serif', serif" text-anchor="middle" font-weight="bold" transform="rotate(-90 5.7 54.4)" fill="#222">MAP (mm Hg)</text>
<text x="81.3" y="30.8" font-size="8.5" font-family="'Liberation Serif', serif" text-anchor="start" fill="#222">WT (N=7)</text>
<path d="M41.1,61.3 L44,55.5 L46.9,61.3 Z" fill="#fff" stroke="#2a2a2a" stroke-width="0.9"/>
<line x1="44" y1="61.3" x2="44" y2="77" stroke="#2a2a2a" stroke-width="1.2"/>
<line x1="204" y1="14.5" x2="204" y2="103.0" stroke="#2a2a2a" stroke-width="1.3"/>
<line x1="204" y1="14.8" x2="206.2" y2="14.8" stroke="#2a2a2a" stroke-width="1.0"/>
<line x1="204" y1="25.85" x2="206.2" y2="25.85" stroke="#2a2a2a" stroke-width="1.0"/>
<line x1="204" y1="36.900000000000006" x2="206.2" y2="36.900000000000006" stroke="#2a2a2a" stroke-width="1.0"/>
<line x1="204" y1="47.95" x2="206.2" y2="47.95" stroke="#2a2a2a" stroke-width="1.0"/>
<line x1="204" y1="59.0" x2="206.2" y2="59.0" stroke="#2a2a2a" stroke-width="1.0"/>
<line x1="204" y1="70.05" x2="206.2" y2="70.05" stroke="#2a2a2a" stroke-width="1.0"/>
<line x1="204" y1="81.10000000000001" x2="206.2" y2="81.10000000000001" stroke="#2a2a2a" stroke-width="1.0"/>
<line x1="204" y1="92.15" x2="206.2" y2="92.15" stroke="#2a2a2a" stroke-width="1.0"/>
<text x="200.5" y="17.7" font-size="7.5" font-family="'Liberation Serif', serif" text-anchor="end" fill="#222">160</text>
<text x="200.5" y="39.800000000000004" font-size="7.5" font-family="'Liberation Serif', serif" text-anchor="end" fill="#222">120</text>
<text x="200.5" y="61.9" font-size="7.5" font-family="'Liberation Serif', serif" text-anchor="end" fill="#222">80</text>
<text x="200.5" y="84.00000000000001" font-size="7.5" font-family="'Liberation Serif', serif" text-anchor="end" fill="#222">40</text>
<line x1="203.4" y1="103.0" x2="341.6" y2="103.0" stroke="#2a2a2a" stroke-width="1.3"/>
<line x1="223.0" y1="103.0" x2="223.0" y2="100.8" stroke="#2a2a2a" stroke-width="1.0"/>
<line x1="242.65" y1="103.0" x2="242.65" y2="100.8" stroke="#2a2a2a" stroke-width="1.0"/>
<line x1="262.3" y1="103.0" x2="262.3" y2="100.8" stroke="#2a2a2a" stroke-width="1.0"/>
<line x1="281.95" y1="103.0" x2="281.95" y2="100.8" stroke="#2a2a2a" stroke-width="1.0"/>
<line x1="301.6" y1="103.0" x2="301.6" y2="100.8" stroke="#2a2a2a" stroke-width="1.0"/>
<line x1="321.25" y1="103.0" x2="321.25" y2="100.8" stroke="#2a2a2a" stroke-width="1.0"/>
<line x1="340.9" y1="103.0" x2="340.9" y2="100.8" stroke="#2a2a2a" stroke-width="1.0"/>
<text x="223.0" y="112.2" font-size="7.5" font-family="'Liberation Serif', serif" text-anchor="middle" fill="#222">0</text>
<text x="262.3" y="112.2" font-size="7.5" font-family="'Liberation Serif', serif" text-anchor="middle" fill="#222">10</text>
<text x="301.6" y="112.2" font-size="7.5" font-family="'Liberation Serif', serif" text-anchor="middle" fill="#222">20</text>
<text x="340.9" y="112.2" font-size="7.5" font-family="'Liberation Serif', serif" text-anchor="middle" fill="#222">30</text>
<text x="274.3" y="121.1" font-size="8.7" font-family="'Liberation Serif', serif" text-anchor="middle" font-weight="bold" fill="#222">Time (h)</text>
<text x="185.3" y="57.7" font-size="8.7" font-family="'Liberation Serif', serif" text-anchor="middle" font-weight="bold" transform="rotate(-90 185.3 57.7)" fill="#222">MAP (mm Hg)</text>
<text x="253" y="28.8" font-size="8.3" font-family="'Liberation Serif', serif" fill="#222">PC<tspan font-size="5" dy="-3.2">-/-</tspan><tspan dy="3.2">(PC</tspan><tspan font-size="6.2" dy="-2.8">Tg785</tspan><tspan dy="2.8">) (N=13)</tspan></text>
<path d="M220.6,59.3 L223.5,53.5 L226.4,59.3 Z" fill="#fff" stroke="#2a2a2a" stroke-width="0.9"/>
<line x1="223.5" y1="59.3" x2="223.5" y2="74" stroke="#2a2a2a" stroke-width="1.2"/>
<line x1="385.8" y1="14" x2="385.8" y2="107.2" stroke="#2a2a2a" stroke-width="1.3"/>
<line x1="385.8" y1="14.6" x2="388.4" y2="14.6" stroke="#2a2a2a" stroke-width="1.0"/>
<line x1="385.8" y1="33.1" x2="388.4" y2="33.1" stroke="#2a2a2a" stroke-width="1.0"/>
<line x1="385.8" y1="51.6" x2="388.4" y2="51.6" stroke="#2a2a2a" stroke-width="1.0"/>
<line x1="385.8" y1="70.1" x2="388.4" y2="70.1" stroke="#2a2a2a" stroke-width="1.0"/>
<line x1="385.8" y1="88.6" x2="388.4" y2="88.6" stroke="#2a2a2a" stroke-width="1.0"/>
<line x1="385.8" y1="107.1" x2="388.4" y2="107.1" stroke="#2a2a2a" stroke-width="1.0"/>
<text x="382.3" y="18.4" font-size="7.5" font-family="'Liberation Serif', serif" text-anchor="end" fill="#222">125</text>
<text x="382.3" y="54.7" font-size="7.5" font-family="'Liberation Serif', serif" text-anchor="end" fill="#222">75</text>
<text x="382.3" y="91.69999999999999" font-size="7.5" font-family="'Liberation Serif', serif" text-anchor="end" fill="#222">25</text>
<rect x="400.6" y="43.0" width="13.599999999999966" height="64.2" fill="#989898" stroke="#333" stroke-width="1.1"/>
<line x1="407.4" y1="40.3" x2="407.4" y2="46.1" stroke="#222" stroke-width="1.0"/>
<line x1="404.0" y1="40.3" x2="410.79999999999995" y2="40.3" stroke="#222" stroke-width="1.1"/>
<line x1="404.0" y1="46.1" x2="410.79999999999995" y2="46.1" stroke="#222" stroke-width="1.1"/>
<rect x="419.4" y="34.2" width="12.800000000000011" height="73.0" fill="#989898" stroke="#333" stroke-width="1.1"/>
<line x1="425.79999999999995" y1="25.8" x2="425.79999999999995" y2="43.2" stroke="#222" stroke-width="1.0"/>
<line x1="422.4" y1="25.8" x2="429.19999999999993" y2="25.8" stroke="#222" stroke-width="1.1"/>
<line x1="422.4" y1="43.2" x2="429.19999999999993" y2="43.2" stroke="#222" stroke-width="1.1"/>
<rect x="437.4" y="45.5" width="13.0" height="61.7" fill="#989898" stroke="#333" stroke-width="1.1"/>
<line x1="443.9" y1="37.2" x2="443.9" y2="53.9" stroke="#222" stroke-width="1.0"/>
<line x1="440.5" y1="37.2" x2="447.29999999999995" y2="37.2" stroke="#222" stroke-width="1.1"/>
<line x1="440.5" y1="53.9" x2="447.29999999999995" y2="53.9" stroke="#222" stroke-width="1.1"/>
<rect x="455.5" y="58.3" width="12.699999999999989" height="48.900000000000006" fill="#989898" stroke="#333" stroke-width="1.1"/>
<line x1="461.85" y1="56.9" x2="461.85" y2="59.0" stroke="#222" stroke-width="1.0"/>
<line x1="458.45000000000005" y1="56.9" x2="465.25" y2="56.9" stroke="#222" stroke-width="1.1"/>
<line x1="458.45000000000005" y1="59.0" x2="465.25" y2="59.0" stroke="#222" stroke-width="1.1"/>
<line x1="395.4" y1="113.9" x2="472" y2="113.9" stroke="#2a2a2a" stroke-width="1.2"/>
<line x1="395.4" y1="113.9" x2="395.4" y2="111.5" stroke="#2a2a2a" stroke-width="1.0"/>
<line x1="416.5" y1="113.9" x2="416.5" y2="111.5" stroke="#2a2a2a" stroke-width="1.0"/>
<line x1="434.8" y1="113.9" x2="434.8" y2="111.5" stroke="#2a2a2a" stroke-width="1.0"/>
<line x1="453" y1="113.9" x2="453" y2="111.5" stroke="#2a2a2a" stroke-width="1.0"/>
<line x1="471.3" y1="113.9" x2="471.3" y2="111.5" stroke="#2a2a2a" stroke-width="1.0"/>
<text x="406" y="122.7" font-size="7.5" font-family="'Liberation Serif', serif" text-anchor="middle" fill="#222">3</text>
<text x="424.6" y="122.7" font-size="7.5" font-family="'Liberation Serif', serif" text-anchor="middle" fill="#222">6</text>
<text x="444" y="122.7" font-size="7.5" font-family="'Liberation Serif', serif" text-anchor="middle" fill="#222">15</text>
<text x="462.3" y="122.7" font-size="7.5" font-family="'Liberation Serif', serif" text-anchor="middle" fill="#222">24</text>
<text x="435.5" y="131.2" font-size="8.5" font-family="'Liberation Serif', serif" text-anchor="middle" font-weight="bold" fill="#222">Infusion Time (h)</text>
<text x="366" y="57.6" font-size="8.6" font-family="'Liberation Serif', serif" text-anchor="middle" font-weight="bold" transform="rotate(-90 366 57.6)" fill="#222">Plasma rhaPC (ng/mL)</text>
<line x1="27.2" y1="146.8" x2="27.2" y2="258.9" stroke="#2a2a2a" stroke-width="1.3"/>
<line x1="27.2" y1="147.4" x2="29.2" y2="147.4" stroke="#2a2a2a" stroke-width="1.0"/>
<line x1="27.2" y1="175.3" x2="29.2" y2="175.3" stroke="#2a2a2a" stroke-width="1.0"/>
<line x1="27.2" y1="203.2" x2="29.2" y2="203.2" stroke="#2a2a2a" stroke-width="1.0"/>
<line x1="27.2" y1="231.05" x2="29.2" y2="231.05" stroke="#2a2a2a" stroke-width="1.0"/>
<text x="23.2" y="149.5" font-size="6.3" font-family="'Liberation Serif', serif" text-anchor="end" fill="#222">1.00</text>
<text x="23.2" y="177.4" font-size="6.3" font-family="'Liberation Serif', serif" text-anchor="end" fill="#222">0.75</text>
<text x="23.2" y="205.29999999999998" font-size="6.3" font-family="'Liberation Serif', serif" text-anchor="end" fill="#222">0.50</text>
<text x="23.2" y="233.15" font-size="6.3" font-family="'Liberation Serif', serif" text-anchor="end" fill="#222">0.25</text>
<line x1="26.6" y1="258.9" x2="124" y2="258.9" stroke="#2a2a2a" stroke-width="1.3"/>
<line x1="51.5" y1="258.9" x2="51.5" y2="256.6" stroke="#2a2a2a" stroke-width="1.0"/>
<line x1="76" y1="258.9" x2="76" y2="256.6" stroke="#2a2a2a" stroke-width="1.0"/>
<line x1="100" y1="258.9" x2="100" y2="256.6" stroke="#2a2a2a" stroke-width="1.0"/>
<line x1="123.5" y1="258.9" x2="123.5" y2="256.6" stroke="#2a2a2a" stroke-width="1.0"/>
<text x="51" y="266.7" font-size="6.5" font-family="'Liberation Serif', serif" text-anchor="middle" fill="#222">30</text>
<text x="76" y="266.7" font-size="6.5" font-family="'Liberation Serif', serif" text-anchor="middle" fill="#222">60</text>
<text x="100" y="266.7" font-size="6.5" font-family="'Liberation Serif', serif" text-anchor="middle" fill="#222">90</text>
<text x="123.5" y="266.7" font-size="6.5" font-family="'Liberation Serif', serif" text-anchor="middle" fill="#222">120</text>
<text x="82" y="273" font-size="6.7" font-family="'Liberation Serif', serif" text-anchor="middle" font-weight="bold" fill="#222">Time (h)</text>
<text x="7.4" y="196.8" font-size="6.5" font-family="'Liberation Serif', serif" text-anchor="middle" font-weight="bold" transform="rotate(-90 7.4 196.8)" fill="#222">Relative Survival</text>
<text x="66.2" y="160.4" font-size="6.2" font-family="'Liberation Serif', serif" font-weight="bold" fill="#222">Wilcoxon <tspan font-style="italic">P</tspan>=.02</text>
<text x="66.2" y="167.7" font-size="6.2" font-family="'Liberation Serif', serif" font-weight="bold" fill="#222">Log-rank <tspan font-style="italic">P</tspan>=.045</text>
<text x="62.5" y="193.6" font-size="5.3" font-family="'Liberation Serif', serif" text-anchor="start" fill="#222">PC (1-3%), rhaPC</text>
<text x="42.7" y="247.9" font-size="5.3" font-family="'Liberation Serif', serif" text-anchor="start" fill="#222">PC (1-3%), saline</text>
<text x="101" y="221.3" font-size="5.8" font-family="'Liberation Serif', serif" text-anchor="start" fill="#222">N=25</text>
<text x="101" y="243.3" font-size="5.8" font-family="'Liberation Serif', serif" text-anchor="start" fill="#222">N=16</text>
<line x1="202.4" y1="146.5" x2="202.4" y2="230.9" stroke="#2a2a2a" stroke-width="1.3"/>
<line x1="202.4" y1="147.0" x2="204.6" y2="147.0" stroke="#2a2a2a" stroke-width="1.0"/>
<line x1="202.4" y1="159.0" x2="204.6" y2="159.0" stroke="#2a2a2a" stroke-width="1.0"/>
<line x1="202.4" y1="171.0" x2="204.6" y2="171.0" stroke="#2a2a2a" stroke-width="1.0"/>
<line x1="202.4" y1="183.0" x2="204.6" y2="183.0" stroke="#2a2a2a" stroke-width="1.0"/>
<line x1="202.4" y1="195.0" x2="204.6" y2="195.0" stroke="#2a2a2a" stroke-width="1.0"/>
<line x1="202.4" y1="207.0" x2="204.6" y2="207.0" stroke="#2a2a2a" stroke-width="1.0"/>
<line x1="202.4" y1="219.0" x2="204.6" y2="219.0" stroke="#2a2a2a" stroke-width="1.0"/>
<text x="198.9" y="161.9" font-size="7.5" font-family="'Liberation Serif', serif" text-anchor="end" fill="#222">120</text>
<text x="198.9" y="185.9" font-size="7.5" font-family="'Liberation Serif', serif" text-anchor="end" fill="#222">80</text>
<text x="198.9" y="209.9" font-size="7.5" font-family="'Liberation Serif', serif" text-anchor="end" fill="#222">40</text>
<line x1="201.8" y1="230.9" x2="337.6" y2="230.9" stroke="#2a2a2a" stroke-width="1.3"/>
<line x1="221.4" y1="230.9" x2="221.4" y2="228.70000000000002" stroke="#2a2a2a" stroke-width="1.0"/>
<line x1="240.70000000000002" y1="230.9" x2="240.70000000000002" y2="228.70000000000002" stroke="#2a2a2a" stroke-width="1.0"/>
<line x1="260.0" y1="230.9" x2="260.0" y2="228.70000000000002" stroke="#2a2a2a" stroke-width="1.0"/>
<line x1="279.3" y1="230.9" x2="279.3" y2="228.70000000000002" stroke="#2a2a2a" stroke-width="1.0"/>
<line x1="298.6" y1="230.9" x2="298.6" y2="228.70000000000002" stroke="#2a2a2a" stroke-width="1.0"/>
<line x1="317.9" y1="230.9" x2="317.9" y2="228.70000000000002" stroke="#2a2a2a" stroke-width="1.0"/>
<line x1="337.2" y1="230.9" x2="337.2" y2="228.70000000000002" stroke="#2a2a2a" stroke-width="1.0"/>
<text x="221.4" y="239.9" font-size="7.5" font-family="'Liberation Serif', serif" text-anchor="middle" fill="#222">0</text>
<text x="240.70000000000002" y="239.9" font-size="7.5" font-family="'Liberation Serif', serif" text-anchor="middle" fill="#222">5</text>
<text x="260.0" y="239.9" font-size="7.5" font-family="'Liberation Serif', serif" text-anchor="middle" fill="#222">10</text>
<text x="279.3" y="239.9" font-size="7.5" font-family="'Liberation Serif', serif" text-anchor="middle" fill="#222">15</text>
<text x="298.6" y="239.9" font-size="7.5" font-family="'Liberation Serif', serif" text-anchor="middle" fill="#222">20</text>
<text x="317.9" y="239.9" font-size="7.5" font-family="'Liberation Serif', serif" text-anchor="middle" fill="#222">25</text>
<text x="337.2" y="239.9" font-size="7.5" font-family="'Liberation Serif', serif" text-anchor="middle" fill="#222">30</text>
<text x="270.7" y="252.3" font-size="8.7" font-family="'Liberation Serif', serif" text-anchor="middle" font-weight="bold" fill="#222">Time (h)</text>
<text x="185.4" y="183.4" font-size="8.7" font-family="'Liberation Serif', serif" text-anchor="middle" font-weight="bold" transform="rotate(-90 185.4 183.4)" fill="#222">MAP (mm Hg)</text>
<text x="238.7" y="155.2" font-size="8.3" font-family="'Liberation Serif', serif" fill="#222">PC<tspan font-size="5" dy="-3.2">-/-</tspan><tspan dy="3.2">(PC</tspan><tspan font-size="6.2" dy="-2.8">Tg785</tspan><tspan dy="2.8">) + saline (N=11)</tspan></text>
<path d="M218.7,193.10000000000002 L221.6,187.3 L224.5,193.10000000000002 Z" fill="#fff" stroke="#2a2a2a" stroke-width="0.9"/>
<line x1="221.6" y1="193.10000000000002" x2="221.6" y2="208.3" stroke="#2a2a2a" stroke-width="1.2"/>
<line x1="385" y1="146.5" x2="385" y2="231.3" stroke="#2a2a2a" stroke-width="1.3"/>
<line x1="385" y1="147.0" x2="387.2" y2="147.0" stroke="#2a2a2a" stroke-width="1.0"/>
<line x1="385" y1="159.03" x2="387.2" y2="159.03" stroke="#2a2a2a" stroke-width="1.0"/>
<line x1="385" y1="171.06" x2="387.2" y2="171.06" stroke="#2a2a2a" stroke-width="1.0"/>
<line x1="385" y1="183.09" x2="387.2" y2="183.09" stroke="#2a2a2a" stroke-width="1.0"/>
<line x1="385" y1="195.12" x2="387.2" y2="195.12" stroke="#2a2a2a" stroke-width="1.0"/>
<line x1="385" y1="207.15" x2="387.2" y2="207.15" stroke="#2a2a2a" stroke-width="1.0"/>
<line x1="385" y1="219.18" x2="387.2" y2="219.18" stroke="#2a2a2a" stroke-width="1.0"/>
<text x="381.5" y="161.93" font-size="7.5" font-family="'Liberation Serif', serif" text-anchor="end" fill="#222">120</text>
<text x="381.5" y="185.99" font-size="7.5" font-family="'Liberation Serif', serif" text-anchor="end" fill="#222">80</text>
<text x="381.5" y="210.05" font-size="7.5" font-family="'Liberation Serif', serif" text-anchor="end" fill="#222">40</text>
<line x1="384.4" y1="231.3" x2="514.2" y2="231.3" stroke="#2a2a2a" stroke-width="1.3"/>
<line x1="403.4" y1="231.3" x2="403.4" y2="229.10000000000002" stroke="#2a2a2a" stroke-width="1.0"/>
<line x1="421.7" y1="231.3" x2="421.7" y2="229.10000000000002" stroke="#2a2a2a" stroke-width="1.0"/>
<line x1="440.0" y1="231.3" x2="440.0" y2="229.10000000000002" stroke="#2a2a2a" stroke-width="1.0"/>
<line x1="458.29999999999995" y1="231.3" x2="458.29999999999995" y2="229.10000000000002" stroke="#2a2a2a" stroke-width="1.0"/>
<line x1="476.59999999999997" y1="231.3" x2="476.59999999999997" y2="229.10000000000002" stroke="#2a2a2a" stroke-width="1.0"/>
<line x1="494.9" y1="231.3" x2="494.9" y2="229.10000000000002" stroke="#2a2a2a" stroke-width="1.0"/>
<line x1="513.2" y1="231.3" x2="513.2" y2="229.10000000000002" stroke="#2a2a2a" stroke-width="1.0"/>
<text x="403.4" y="239.9" font-size="7.5" font-family="'Liberation Serif', serif" text-anchor="middle" fill="#222">0</text>
<text x="421.7" y="239.9" font-size="7.5" font-family="'Liberation Serif', serif" text-anchor="middle" fill="#222">5</text>
<text x="440.0" y="239.9" font-size="7.5" font-family="'Liberation Serif', serif" text-anchor="middle" fill="#222">10</text>
<text x="458.29999999999995" y="239.9" font-size="7.5" font-family="'Liberation Serif', serif" text-anchor="middle" fill="#222">15</text>
<text x="476.59999999999997" y="239.9" font-size="7.5" font-family="'Liberation Serif', serif" text-anchor="middle" fill="#222">20</text>
<text x="494.9" y="239.9" font-size="7.5" font-family="'Liberation Serif', serif" text-anchor="middle" fill="#222">25</text>
<text x="513.2" y="239.9" font-size="7.5" font-family="'Liberation Serif', serif" text-anchor="middle" fill="#222">30</text>
<text x="455.9" y="252.3" font-size="8.7" font-family="'Liberation Serif', serif" text-anchor="middle" font-weight="bold" fill="#222">Time (h)</text>
<text x="366.8" y="185.1" font-size="8.7" font-family="'Liberation Serif', serif" text-anchor="middle" font-weight="bold" transform="rotate(-90 366.8 185.1)" fill="#222">MAP (mm Hg)</text>
<text x="413" y="156.8" font-size="8.45" font-family="'Liberation Serif', serif" fill="#222">PC<tspan font-size="5" dy="-3.2">-/-</tspan><tspan dy="3.2">(PC</tspan><tspan font-size="6.2" dy="-2.8">Tg785</tspan><tspan dy="2.8">) + rhaPC (N=9)</tspan></text>
<path d="M400.5,199.8 L403.4,194 L406.29999999999995,199.8 Z" fill="#fff" stroke="#2a2a2a" stroke-width="0.9"/>
<line x1="403.4" y1="199.8" x2="403.4" y2="211.7" stroke="#2a2a2a" stroke-width="1.2"/>
</svg></body></html>
